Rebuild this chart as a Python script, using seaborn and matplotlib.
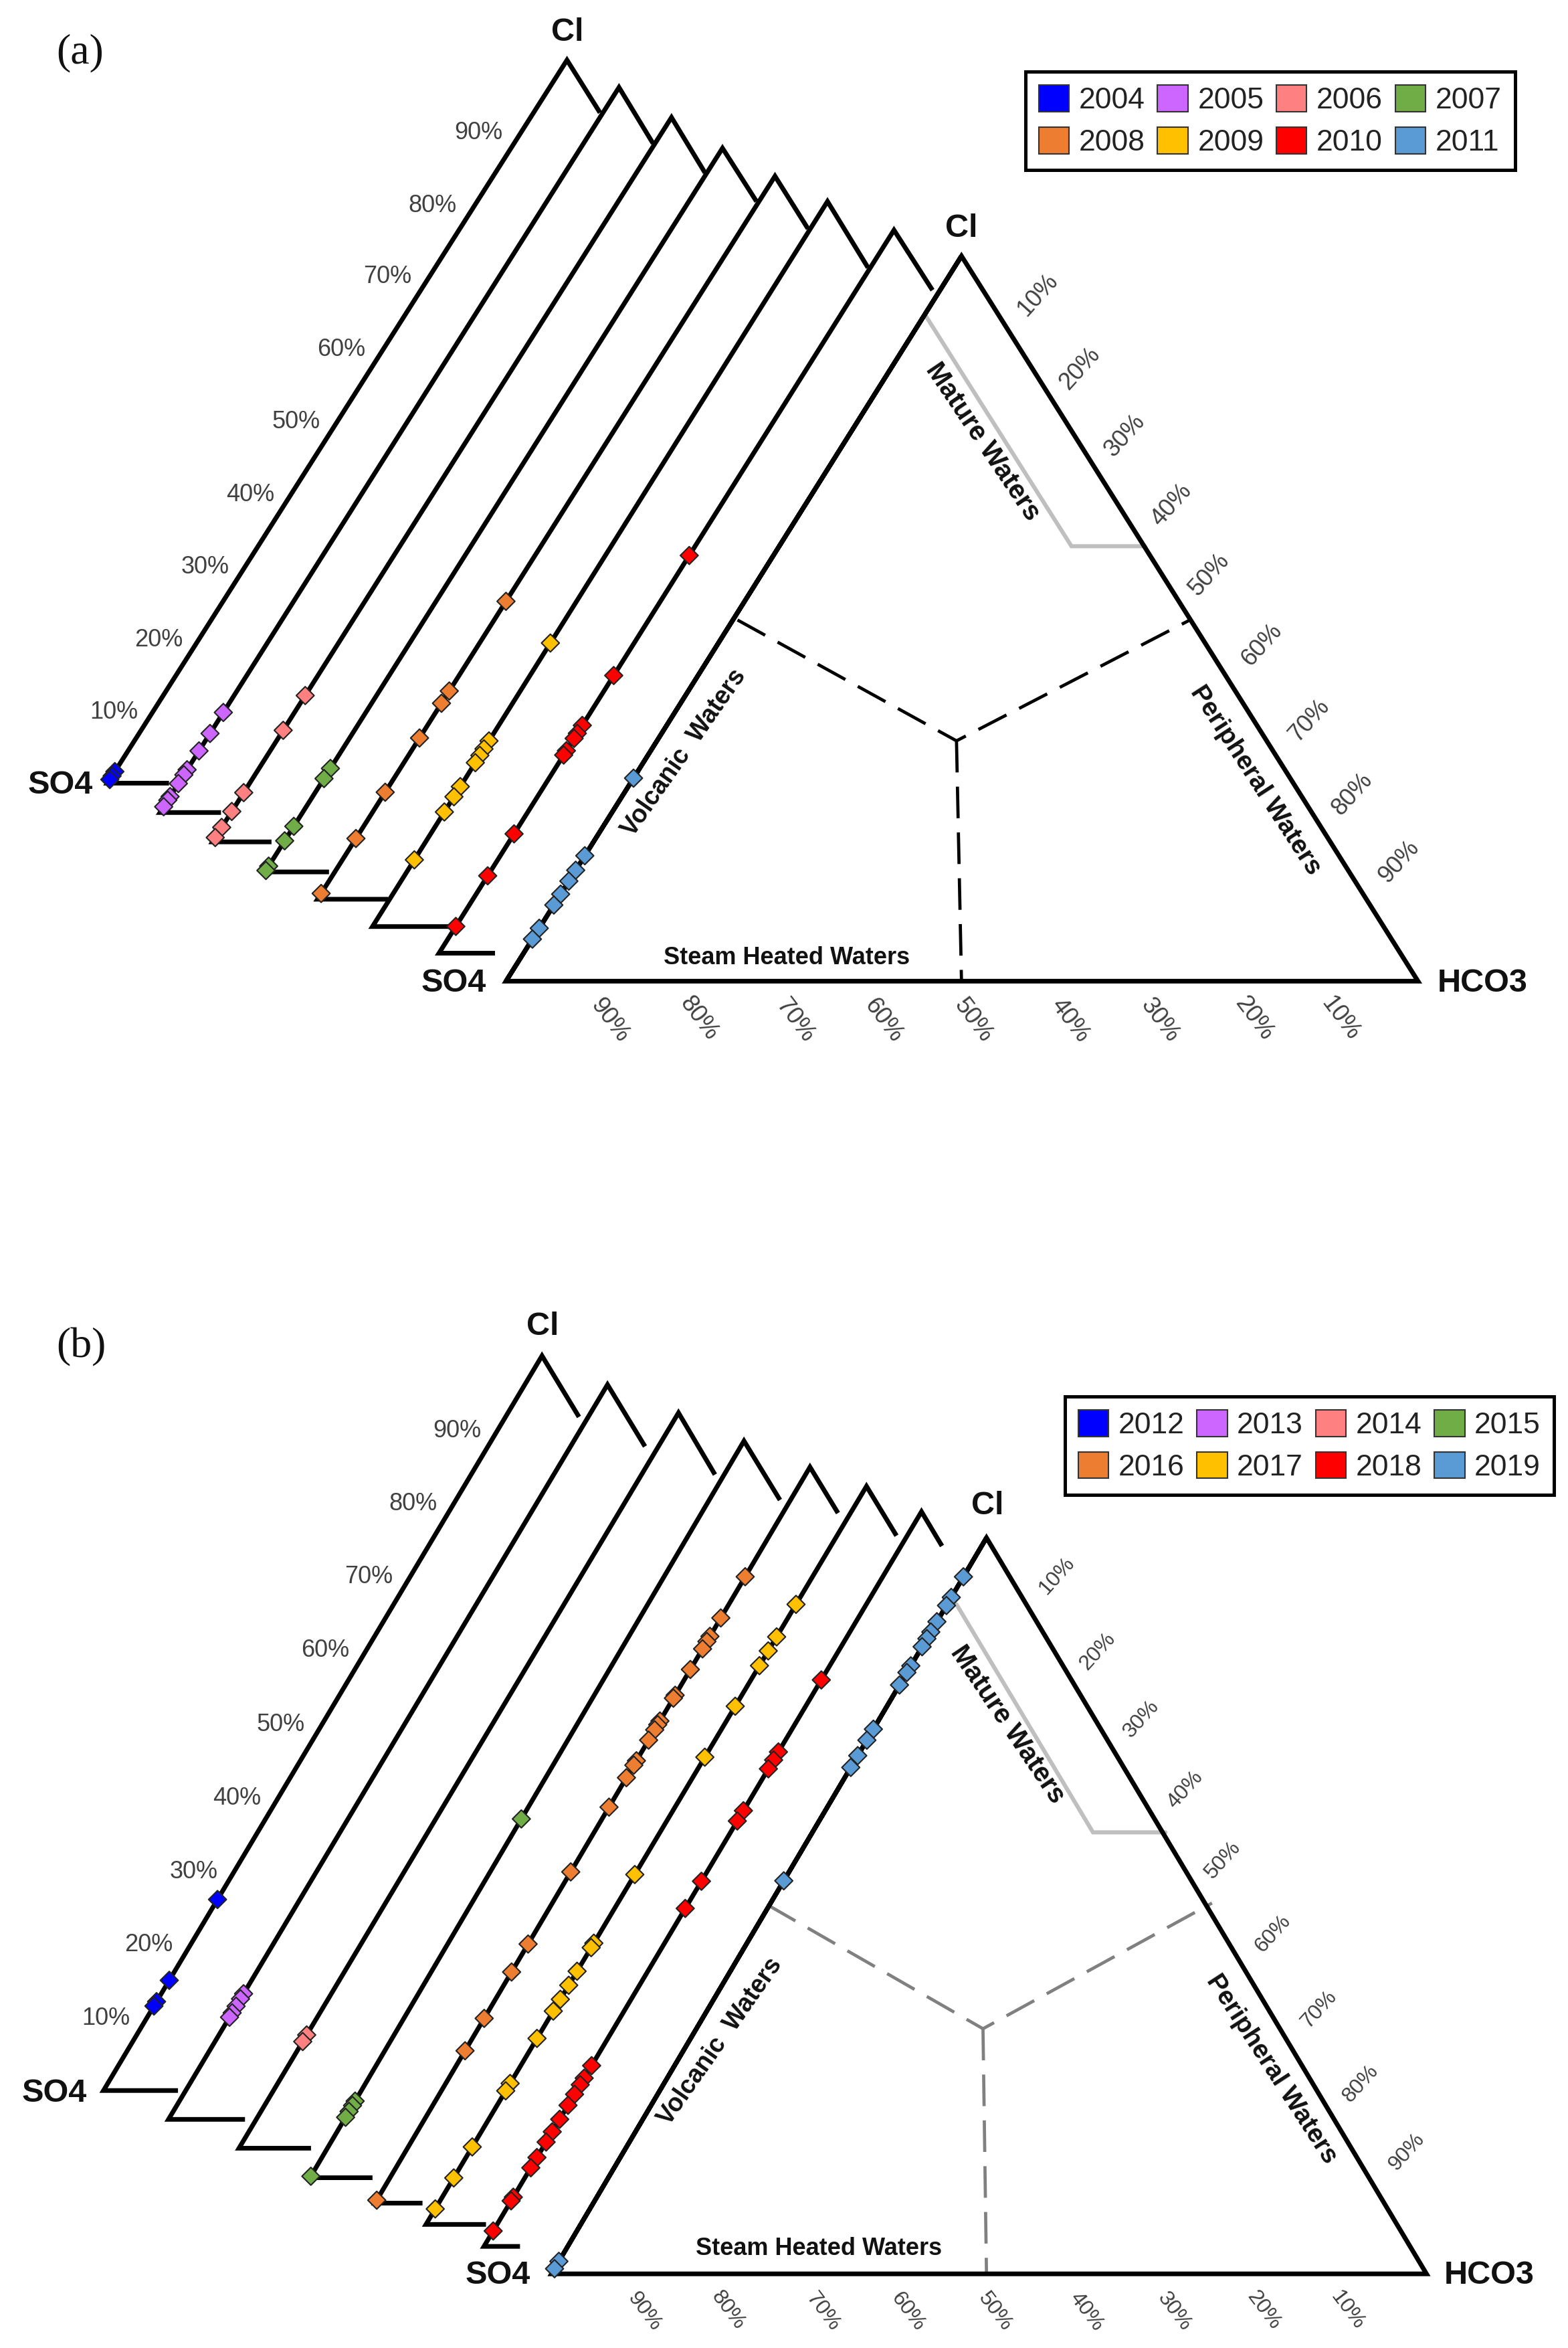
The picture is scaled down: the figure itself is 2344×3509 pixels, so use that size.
import matplotlib
matplotlib.use("Agg")
import matplotlib.pyplot as plt
from matplotlib.patches import Patch
import pandas as pd
import seaborn as sns

sns.set_theme(style="white")
plt.rcParams["font.family"] = ["Liberation Sans", "DejaVu Sans"]

W, H = 2344, 3509
PALETTE = ["#0000FF", "#CC66FF", "#FF8080", "#70AD47", "#ED7D31", "#FFC000", "#FF0000", "#5B9BD5"]
PCT = ["10%", "20%", "30%", "40%", "50%", "60%", "70%", "80%", "90%"]

# ---- data: Cl fraction (%) of every sample, one list per year (all on the Cl-SO4 edge)
years_a = ["2004", "2005", "2006", "2007", "2008", "2009", "2010", "2011"]
cl_2004 = [1.6, 1.0, 0.5]
cl_2005 = [13.8, 10.9, 8.5, 5.9, 5.2, 4.0, 2.2, 1.7, 0.8]
cl_2006 = [20.2, 15.4, 6.8, 4.2, 2.0, 0.6]
cl_2007 = [14.3, 12.9, 6.3, 4.3, 0.8, 0.2]
cl_2008 = [41.2, 28.8, 27.1, 22.3, 14.8, 8.4, 0.8]
cl_2009 = [39.1, 25.6, 24.5, 23.6, 22.6, 19.3, 17.9, 15.8, 9.2]
cl_2010 = [55.0, 38.4, 31.5, 30.4, 29.7, 28.0, 27.4, 16.5, 10.7, 3.7]
cl_2011 = [28.0, 17.3, 15.3, 13.8, 12.0, 10.5, 7.3, 5.8]
series_a = [cl_2004, cl_2005, cl_2006, cl_2007, cl_2008, cl_2009, cl_2010, cl_2011]

years_b = ["2012", "2013", "2014", "2015", "2016", "2017", "2018", "2019"]
cl_2012 = [26.0, 15.0, 12.1, 11.5]
cl_2013 = [17.1, 16.4, 15.4, 14.5, 13.9]
cl_2014 = [15.4, 14.5]
cl_2015 = [48.7, 10.4, 9.8, 9.0, 8.2, 0.2]
cl_2016 = [85.1, 79.5, 77.0, 76.3, 75.3, 72.5, 69.0, 68.6, 65.5, 65.0, 64.3, 62.9, 60.1, 59.5,
           57.8, 53.8, 45.0, 35.2, 31.4, 25.1, 20.7, 0.4]
cl_2017 = [84.0, 79.6, 77.7, 75.7, 70.2, 63.3, 47.4, 38.1, 37.5, 34.3, 32.4, 30.5, 28.9, 25.2,
           19.1, 18.1, 10.5, 6.3, 2.1]
cl_2018 = [77.1, 67.3, 66.2, 65.0, 59.3, 57.9, 49.7, 46.0, 24.6, 22.9, 22.0, 20.7, 19.2, 17.3,
           15.6, 14.2, 12.1, 10.7, 6.7, 6.2, 2.1]
cl_2019 = [94.7, 91.9, 90.8, 88.6, 87.2, 86.3, 85.2, 82.6, 81.7, 80.0, 74.0, 72.5, 70.4, 68.8,
           53.4, 1.7, 0.7]
series_b = [cl_2012, cl_2013, cl_2014, cl_2015, cl_2016, cl_2017, cl_2018, cl_2019]

# ---- layout, in a working grid: x/1.3379 -> px; y -> px by the panel's factor
SX = 1.3379
PANEL_A = dict(
    sy=0.98, y0=0, r=1568,
    stack=[((215, 1147), (1134, 88), 338, (1200, 165)),
           ((320, 1190), (1238, 128), 442, (1306, 210)),
           ((425, 1233), (1343, 172), 543, (1410, 253)),
           ((530, 1277), (1445, 217), 658, (1513, 295)),
           ((635, 1317), (1550, 258), 776, (1616, 335)),
           ((745, 1357), (1655, 295), 905, (1736, 392)),
           ((878, 1396), (1788, 337), 990, (1865, 425))],
    main=((1012, 1437), (1923, 375), (2836, 1437)),
    gray=[(1851, 462), (2143, 800), (2290, 800)],
    dash=[(1475, 908), (1913, 1085), (2380, 908)], dash2=[(1913, 1085), (1923, 1437)],
    dash_color="black",
    left=[(228, 1043), (318, 937), (410, 831), (500, 725), (592, 618), (683, 512), (775, 405), (865, 301), (957, 195)],
    right=[(2076, 432), (2160, 540), (2250, 638), (2343, 740), (2418, 842), (2523, 945), (2618, 1055), (2705, 1163), (2798, 1262)],
    bottom=[(2680, 1492), (2508, 1492), (2320, 1495), (2140, 1495), (1946, 1495), (1766, 1495), (1590, 1495), (1397, 1492), (1220, 1495)],
    tick_small=26,
    cl=[(1135, 48), (1923, 335)], so4=[(120, 1150), (908, 1440)], hco3=(2965, 1440),
    tag=("(a)", (160, 78)),
    mature=(1965, 647), peripheral=(2511, 1143), volcanic=(1368, 1103), steam=(1574, 1403),
    legend=(3030, 105),
)
PANEL_B = dict(
    sy=0.9745, y0=1900, r=1568,
    stack=[((207, 1193), (1084, 123), 356, (1158, 212)),
           ((337, 1235), (1215, 165), 490, (1290, 255)),
           ((478, 1277), (1357, 206), 622, (1430, 296)),
           ((620, 1320), (1488, 247), 745, (1560, 333)),
           ((750, 1357), (1620, 285), 845, (1676, 352)),
           ((852, 1388), (1733, 313), 972, (1793, 385)),
           ((968, 1420), (1843, 350), 1040, (1884, 400))],
    main=((1103, 1460), (1973, 388), (2853, 1460)),
    gray=[(1913, 485), (2186, 817), (2331, 817)],
    dash=[(1536, 923), (1966, 1103), (2424, 920)], dash2=[(1966, 1103), (1973, 1460)],
    dash_color="#808080",
    left=[(212, 1088), (298, 981), (387, 875), (474, 767), (562, 660), (650, 552), (738, 445), (826, 339), (914, 232)],
    right=[(2114, 443), (2195, 553), (2283, 652), (2371, 755), (2446, 857), (2546, 965), (2638, 1075), (2721, 1183), (2813, 1282)],
    bottom=[(2695, 1513), (2528, 1513), (2348, 1515), (2173, 1515), (1990, 1515), (1815, 1515), (1646, 1515), (1456, 1513), (1288, 1515)],
    tick_small=23,
    cl=[(1086, 80), (1975, 342)], so4=[(108, 1197), (995, 1462)], hco3=(2978, 1462),
    tag=("(b)", (163, 111)),
    mature=(2015, 660), peripheral=(2543, 1162), volcanic=(1440, 1122), steam=(1638, 1423),
    legend=(3108, 182),
)


def px(p, panel):
    return p[0] / SX, panel["y0"] + p[1] / panel["sy"]


def along(base, apex, pct):
    t = pct / 100.0
    return base[0] + (apex[0] - base[0]) * t, base[1] + (apex[1] - base[1]) * t


def draw_panel(ax, panel, years, series):
    LW = 5.0
    P = lambda p: px(p, panel)
    kw = dict(color="black", lw=LW, solid_joinstyle="miter", solid_capstyle="butt", zorder=2)

    edges = []
    for base, apex, end_x, end_r in panel["stack"]:
        b, a, r = P(base), P(apex), P(end_r)
        e = P((end_x, base[1]))
        ax.plot([e[0], b[0], a[0], r[0]], [e[1], b[1], a[1], r[1]], **kw)
        edges.append((b, a))
    so4, cl, hco3 = [P(p) for p in panel["main"]]
    edges.append((so4, cl))
    ax.plot([so4[0], cl[0], hco3[0], so4[0], cl[0]], [so4[1], cl[1], hco3[1], so4[1], cl[1]], **kw)

    g = [P(p) for p in panel["gray"]]
    ax.plot([q[0] for q in g], [q[1] for q in g], color="#BFBFBF", lw=4.4, solid_joinstyle="miter", zorder=1)
    for key in ("dash", "dash2"):
        d = [P(p) for p in panel[key]]
        ax.plot([q[0] for q in d], [q[1] for q in d], color=panel["dash_color"], lw=3.4,
                dashes=(10, 4.5), dash_capstyle="butt", zorder=1)

    rows = []
    for year, values, (b, a) in zip(years, series, edges):
        for v in values:
            x, y = along(b, a, v)
            rows.append(dict(year=year, x=x, y=y))
    df = pd.DataFrame(rows)
    sns.scatterplot(data=df, x="x", y="y", hue="year", hue_order=years, palette=PALETTE,
                    marker="D", s=185, edgecolor="#222222", linewidth=1.5, legend=False,
                    ax=ax, zorder=3)

    for lab, p in zip(PCT, panel["left"]):
        x, y = P(p)
        ax.text(x, y, lab, fontsize=26, color="#404040", ha="center", va="center")
    for lab, p in zip(PCT, panel["right"]):
        x, y = P(p)
        ax.text(x, y, lab, fontsize=panel["tick_small"], color="#404040", ha="center", va="center",
                rotation=48, rotation_mode="anchor")
    for lab, p in zip(PCT, panel["bottom"]):
        x, y = P(p)
        ax.text(x, y, lab, fontsize=panel["tick_small"], color="#404040", ha="center", va="center",
                rotation=-53, rotation_mode="anchor")

    bold = dict(fontweight="bold", color="#111111", ha="center", va="center")
    for p in panel["cl"]:
        ax.text(*P(p), "Cl", fontsize=35, **bold)
    for p in panel["so4"]:
        ax.text(*P(p), "SO4", fontsize=35, **bold)
    ax.text(*P(panel["hco3"]), "HCO3", fontsize=35, **bold)
    ax.text(*P(panel["tag"][1]), panel["tag"][0], fontsize=46, family="Liberation Serif",
            color="#111111", ha="center", va="center")

    rm = dict(rotation_mode="anchor", **bold)
    ax.text(*P(panel["mature"]), "Mature Waters", fontsize=29, rotation=-56, **rm)
    ax.text(*P(panel["peripheral"]), "Peripheral Waters", fontsize=28, rotation=-57, **rm)
    ax.text(*P(panel["volcanic"]), "Volcanic  Waters", fontsize=27, rotation=55, **rm)
    ax.text(*P(panel["steam"]), "Steam Heated Waters", fontsize=26, **bold)

    handles = [Patch(facecolor=c, edgecolor="#333333", linewidth=1.5, label=y)
               for c, y in zip(PALETTE, years)]
    # column-first filling in matplotlib: rearrange so rows read left to right
    order = [0, 4, 1, 5, 2, 6, 3, 7]
    leg = ax.legend(handles=[handles[i] for i in order], ncol=4, loc="upper right",
                    bbox_to_anchor=P(panel["legend"]), bbox_transform=ax.transData,
                    fontsize=32, frameon=True, fancybox=False, edgecolor="black", framealpha=1,
                    borderaxespad=0, borderpad=0.45, handlelength=1.02, handleheight=1.0,
                    handletextpad=0.33, columnspacing=0.42, labelspacing=0.42)
    leg.get_frame().set_linewidth(3.6)
    for t in leg.get_texts():
        t.set_color("#222222")


fig = plt.figure(figsize=(W / 100, H / 100), dpi=100, facecolor="white")
ax = fig.add_axes([0, 0, 1, 1])
ax.set_xlim(0, W)
ax.set_ylim(H, 0)
ax.axis("off")
draw_panel(ax, PANEL_A, years_a, series_a)
first_legend = ax.get_legend()
ax.add_artist(first_legend)
draw_panel(ax, PANEL_B, years_b, series_b)
ax.set_xlim(0, W)
ax.set_ylim(H, 0)
fig.savefig("out.png", dpi=100)
